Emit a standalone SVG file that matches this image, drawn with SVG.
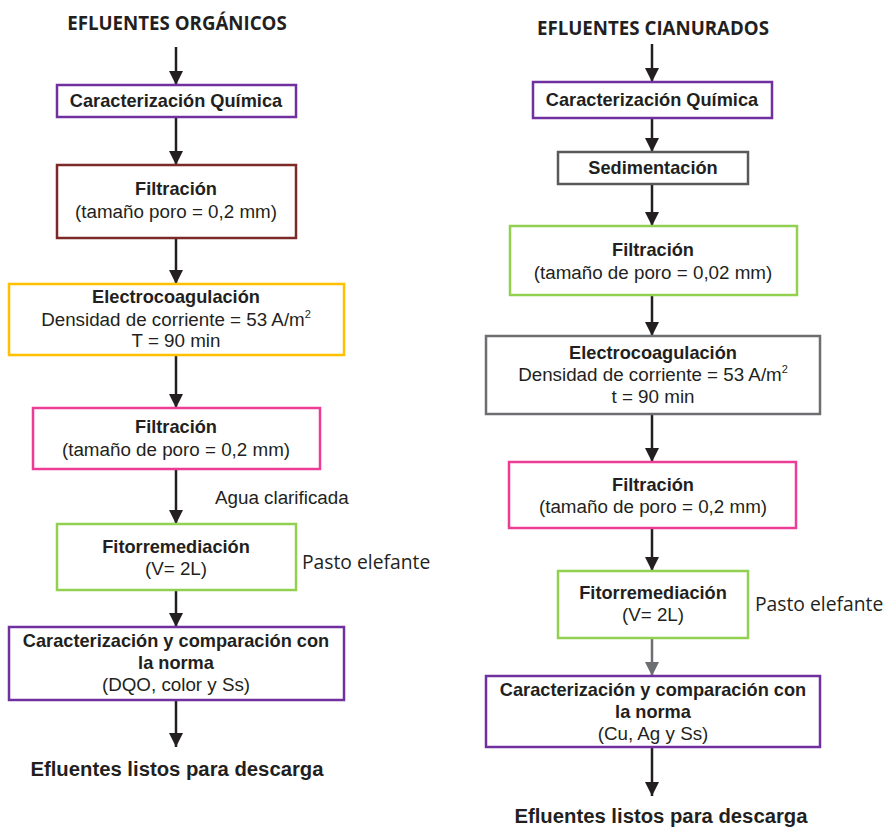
<svg xmlns="http://www.w3.org/2000/svg" width="885" height="827" viewBox="0 0 885 827">
<defs>
<marker id="ah" viewBox="0 0 14 14" refX="14" refY="7" markerWidth="14" markerHeight="14" markerUnits="userSpaceOnUse" orient="auto"><path d="M0,0 L14,7 L0,14 Z" fill="#231f20"/></marker>
<marker id="ahg" viewBox="0 0 14 14" refX="14" refY="7" markerWidth="14" markerHeight="14" markerUnits="userSpaceOnUse" orient="auto"><path d="M0,0 L14,7 L0,14 Z" fill="#6d6e71"/></marker>
</defs>
<style>
.bx{fill:#fff;stroke-width:2.5}
.b{font-family:"Liberation Sans",Arial,sans-serif;font-weight:bold;font-size:18.2px;fill:#231f20;text-anchor:middle}
.r{font-family:"Liberation Sans",Arial,sans-serif;font-size:18.8px;fill:#231f20;text-anchor:middle}
.t{font-family:"Open Sans",sans-serif;font-weight:bold;font-size:18.7px;fill:#231f20;text-anchor:middle}
.p{font-family:"Open Sans",sans-serif;font-size:19.3px;fill:#231f20}
.f{font-family:"Liberation Sans",Arial,sans-serif;font-weight:bold;font-size:20.3px;fill:#231f20;text-anchor:middle}
.c{stroke:#231f20;stroke-width:2.5;fill:none;marker-end:url(#ah)}
.cg{stroke:#6d6e71;stroke-width:2.5;fill:none;marker-end:url(#ahg)}
</style>
<rect width="885" height="827" fill="#fff"/>
<g id="connectors">
<line class="c" x1="176" y1="47" x2="176" y2="85"/>
<line class="c" x1="176" y1="117" x2="176" y2="165"/>
<line class="c" x1="176" y1="238" x2="176" y2="284"/>
<line class="c" x1="176" y1="355" x2="176" y2="408"/>
<line class="c" x1="176" y1="469" x2="176" y2="524"/>
<line class="c" x1="176" y1="590" x2="176" y2="627"/>
<line class="c" x1="176" y1="700" x2="176" y2="747"/>
<line class="c" x1="652" y1="44" x2="652" y2="82"/>
<line class="c" x1="652" y1="118" x2="652" y2="152"/>
<line class="c" x1="652" y1="184" x2="652" y2="226"/>
<line class="c" x1="652" y1="295" x2="652" y2="336"/>
<line class="c" x1="652" y1="414" x2="652" y2="462"/>
<line class="c" x1="652" y1="528" x2="652" y2="571"/>
<line class="cg" x1="652" y1="638" x2="652" y2="676"/>
<line class="c" x1="652" y1="747" x2="652" y2="796"/>
</g>
<g id="title-left"><text class="t" x="177" y="30">EFLUENTES ORGÁNICOS</text></g>
<g id="L1"><rect class="bx" x="57" y="85" width="239" height="32" stroke="#7030a0"/><text class="b" x="176" y="107">Caracterización Química</text></g>
<g id="L2"><rect class="bx" x="57" y="165" width="239" height="73" stroke="#7b2a27"/><text class="b" x="176" y="195">Filtración</text><text class="r" x="176" y="218">(tamaño poro = 0,2 mm)</text></g>
<g id="L3"><rect class="bx" x="9" y="284" width="335" height="71" stroke="#ffc000"/><text class="b" x="176" y="303">Electrocoagulación</text><text class="r" x="176" y="326">Densidad de corriente = 53 A/m<tspan font-size="11" dy="-8">2</tspan></text><text class="r" x="176" y="347">T = 90 min</text></g>
<g id="L4"><rect class="bx" x="33" y="408" width="287" height="61" stroke="#ec3c95"/><text class="b" x="176" y="433">Filtración</text><text class="r" x="176" y="456">(tamaño de poro = 0,2 mm)</text></g>
<g id="L-agua"><text class="r" x="215" y="504" style="text-anchor:start">Agua clarificada</text></g>
<g id="L5"><rect class="bx" x="57" y="524" width="239" height="66" stroke="#92d050"/><text class="b" x="176" y="553">Fitorremediación</text><text class="r" x="176" y="575">(V= 2L)</text></g>
<g id="L-pasto"><text class="p" x="302" y="569">Pasto elefante</text></g>
<g id="L6"><rect class="bx" x="9" y="627" width="335" height="73" stroke="#7030a0"/><text class="b" x="176" y="647">Caracterización y comparación con</text><text class="b" x="176" y="669">la norma</text><text class="r" x="176" y="691">(DQO, color y Ss)</text></g>
<g id="L-end"><text class="f" x="177" y="776">Efluentes listos para descarga</text></g>

<g id="title-right"><text class="t" x="653" y="35">EFLUENTES CIANURADOS</text></g>
<g id="R1"><rect class="bx" x="533" y="82" width="239" height="36" stroke="#7030a0"/><text class="b" x="652" y="106">Caracterización Química</text></g>
<g id="R2"><rect class="bx" x="558" y="152" width="190" height="32" stroke="#58595b"/><text class="b" x="653" y="174">Sedimentación</text></g>
<g id="R3"><rect class="bx" x="510" y="226" width="287" height="69" stroke="#92d050"/><text class="b" x="653" y="256">Filtración</text><text class="r" x="653" y="279">(tamaño de poro = 0,02 mm)</text></g>
<g id="R4"><rect class="bx" x="486" y="336" width="334" height="78" stroke="#6d6e71"/><text class="b" x="653" y="359">Electrocoagulación</text><text class="r" x="653" y="381">Densidad de corriente = 53 A/m<tspan font-size="11" dy="-8">2</tspan></text><text class="r" x="653" y="403">t = 90 min</text></g>
<g id="R5"><rect class="bx" x="509" y="462" width="287" height="66" stroke="#ec3c95"/><text class="b" x="653" y="491">Filtración</text><text class="r" x="653" y="513">(tamaño de poro = 0,2 mm)</text></g>
<g id="R6"><rect class="bx" x="558" y="571" width="190" height="67" stroke="#92d050"/><text class="b" x="653" y="599">Fitorremediación</text><text class="r" x="653" y="621">(V= 2L)</text></g>
<g id="R-pasto"><text class="p" x="755" y="611">Pasto elefante</text></g>
<g id="R7"><rect class="bx" x="486" y="676" width="334" height="71" stroke="#7030a0"/><text class="b" x="653" y="696">Caracterización y comparación con</text><text class="b" x="653" y="718">la norma</text><text class="r" x="653" y="740">(Cu, Ag y Ss)</text></g>
<g id="R-end"><text class="f" x="661" y="823">Efluentes listos para descarga</text></g>
</svg>
